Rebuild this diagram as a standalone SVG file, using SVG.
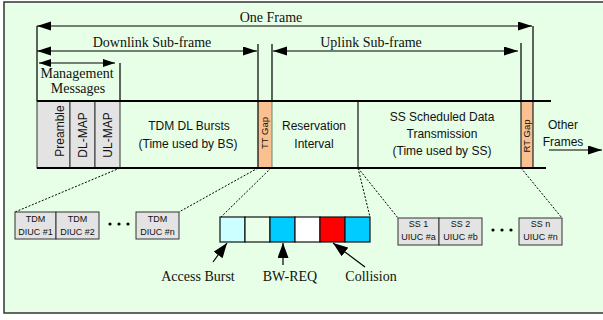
<svg xmlns="http://www.w3.org/2000/svg" width="603" height="320" viewBox="0 0 603 320">
<defs>
<style>
.serif{font-family:"Liberation Serif","Times New Roman",serif;font-size:14px;fill:#111}
.sans{font-family:"Liberation Sans",Arial,sans-serif;font-size:12px;fill:#111}
.small{font-family:"Liberation Sans",Arial,sans-serif;font-size:9px;fill:#111}
.gap{font-family:"Liberation Sans",Arial,sans-serif;font-size:9.5px;fill:#111}
.dim{stroke:#000;stroke-width:1.2;fill:none}
.vl{stroke:#111;stroke-width:1.3;fill:none}
.dot{stroke:#000;stroke-width:1;stroke-dasharray:2 1.6;fill:none}
.gray{fill:#E3E3E3;stroke:#333;stroke-width:1}
.slot{stroke:#111;stroke-width:1.2}
</style>
<marker id="ah" markerUnits="userSpaceOnUse" markerWidth="16" markerHeight="10" refX="14" refY="4.5" orient="auto-start-reverse">
<path d="M0,0 L14,4.5 L0,9 Z" fill="#000"/>
</marker>
<marker id="ahs" markerUnits="userSpaceOnUse" markerWidth="14" markerHeight="10" refX="12" refY="4" orient="auto-start-reverse">
<path d="M0,0 L12,4 L0,8 Z" fill="#000"/>
</marker>
<marker id="ahb" markerUnits="userSpaceOnUse" markerWidth="18" markerHeight="12" refX="15" refY="5.5" orient="auto">
<path d="M0,0 L15,5.5 L0,11 Z" fill="#000"/>
</marker>
</defs>

<rect x="4" y="2" width="610" height="311" fill="#E6FFE6" stroke="#333" stroke-width="1.5"/>

<g id="connectors">
<line class="dim" x1="37" y1="26" x2="532" y2="26" marker-start="url(#ah)" marker-end="url(#ah)"/>
<line class="dim" x1="37" y1="51" x2="257" y2="51" marker-start="url(#ah)" marker-end="url(#ah)"/>
<line class="dim" x1="273" y1="51" x2="518" y2="51" marker-start="url(#ah)" marker-end="url(#ah)"/>
<line class="dim" x1="39" y1="63" x2="115" y2="63" marker-start="url(#ahs)" marker-end="url(#ahs)"/>
<line class="vl" x1="37" y1="26" x2="37" y2="101"/>
<line class="vl" x1="120" y1="63" x2="120" y2="101"/>
<line class="vl" x1="258" y1="44" x2="258" y2="101"/>
<line class="vl" x1="272" y1="44" x2="272" y2="101"/>
<line class="vl" x1="521" y1="43" x2="521" y2="101"/>
<line class="vl" x1="533" y1="26" x2="533" y2="101"/>
<line class="dim" x1="549" y1="150" x2="602" y2="150" marker-end="url(#ah)"/>
<line class="dot" x1="120" y1="168" x2="15" y2="212"/>
<line class="dot" x1="258" y1="168" x2="179" y2="212"/>
<line class="dot" x1="271" y1="168" x2="221" y2="217"/>
<line class="dot" x1="358" y1="168" x2="370" y2="217"/>
<line class="dot" x1="358" y1="168" x2="398" y2="218"/>
<line class="dot" x1="521" y1="168" x2="562" y2="218"/>
<line class="dim" x1="213" y1="262" x2="227" y2="243" stroke-width="1.3" marker-end="url(#ahb)"/>
<line class="dim" x1="283" y1="265" x2="283" y2="243" stroke-width="1.3" marker-end="url(#ahb)"/>
<line class="dim" x1="365" y1="267" x2="333" y2="243" stroke-width="1.3" marker-end="url(#ahb)"/>
</g>

<g id="labels">
<text class="serif" x="271" y="22" text-anchor="middle">One Frame</text>
<text class="serif" x="152" y="47" text-anchor="middle">Downlink Sub-frame</text>
<text class="serif" x="371" y="47" text-anchor="middle">Uplink Sub-frame</text>
<text class="serif" x="77" y="78" text-anchor="middle">Management</text>
<text class="serif" x="78" y="93" text-anchor="middle">Messages</text>
<text class="sans" x="563" y="129" text-anchor="middle">Other</text>
<text class="sans" x="563" y="146" text-anchor="middle">Frames</text>
</g>

<g id="frame">
<rect x="37" y="101" width="33" height="67" class="gray"/>
<rect x="70" y="101" width="25" height="67" class="gray"/>
<rect x="95" y="101" width="25" height="67" class="gray"/>
<text class="sans" transform="translate(64,131) rotate(-90)" text-anchor="middle">Preamble</text>
<text class="sans" transform="translate(87,135) rotate(-90)" text-anchor="middle">DL-MAP</text>
<text class="sans" transform="translate(112,135) rotate(-90)" text-anchor="middle">UL-MAP</text>
</g>

<g id="tdm-dl-bursts">
<text class="sans" x="189" y="130" text-anchor="middle">TDM DL Bursts</text>
<text class="sans" x="188" y="148" text-anchor="middle">(Time used by BS)</text>
</g>

<g id="tt-gap">
<rect x="258" y="101" width="14" height="67" fill="#FAC090"/>
<line x1="258" y1="101" x2="258" y2="168" stroke="#222" stroke-width="1.4"/>
<line x1="272" y1="101" x2="272" y2="168" stroke="#6a8a6a" stroke-width="1"/>
<text class="gap" transform="translate(268,133) rotate(-90)" text-anchor="middle">TT Gap</text>
</g>

<g id="reservation-interval">
<text class="sans" x="314" y="130" text-anchor="middle">Reservation</text>
<text class="sans" x="314" y="148" text-anchor="middle">Interval</text>
<line x1="358" y1="101" x2="358" y2="168" stroke="#333" stroke-width="1.4"/>
</g>

<g id="ss-scheduled">
<text class="sans" x="442" y="121" text-anchor="middle">SS Scheduled Data</text>
<text class="sans" x="442" y="138" text-anchor="middle">Transmission</text>
<text class="sans" x="442" y="155" text-anchor="middle">(Time used by SS)</text>
</g>

<g id="rt-gap">
<rect x="521" y="101" width="12" height="67" fill="#FAC090"/>
<line x1="521" y1="101" x2="521" y2="168" stroke="#222" stroke-width="1.2"/>
<line x1="533" y1="101" x2="533" y2="168" stroke="#222" stroke-width="1.2"/>
<text class="gap" transform="translate(530,136) rotate(-90)" text-anchor="middle">RT Gap</text>
</g>

<g id="frame-edges">
<line x1="37" y1="101" x2="551" y2="101" stroke="#000" stroke-width="2"/>
<line x1="37" y1="168" x2="546" y2="168" stroke="#000" stroke-width="2"/>
</g>

<g id="tdm-diuc">
<rect x="15" y="212" width="41" height="27" class="gray"/>
<text class="small" x="35.5" y="222" text-anchor="middle">TDM</text>
<text class="small" x="35.5" y="235" text-anchor="middle">DIUC #1</text>
<rect x="56" y="212" width="43" height="27" class="gray"/>
<text class="small" x="77.5" y="222" text-anchor="middle">TDM</text>
<text class="small" x="77.5" y="235" text-anchor="middle">DIUC #2</text>
<circle cx="110" cy="224" r="1.6" fill="#000"/>
<circle cx="119" cy="224" r="1.6" fill="#000"/>
<circle cx="128" cy="224" r="1.6" fill="#000"/>
<rect x="136" y="212" width="43" height="27" class="gray"/>
<text class="small" x="157.5" y="222" text-anchor="middle">TDM</text>
<text class="small" x="157.5" y="235" text-anchor="middle">DIUC #n</text>
</g>

<g id="slots">
<rect x="220" y="217" width="25" height="25" fill="#CCFFFF" class="slot"/>
<rect x="245" y="217" width="25" height="25" fill="#EAFFEA" class="slot"/>
<rect x="270" y="217" width="25" height="25" fill="#00CCFF" class="slot"/>
<rect x="295" y="217" width="25" height="25" fill="#FFFFFF" class="slot"/>
<rect x="320" y="217" width="25" height="25" fill="#FF0000" class="slot"/>
<rect x="345" y="217" width="25" height="25" fill="#00CCFF" class="slot"/>
<text class="serif" x="198" y="281" text-anchor="middle">Access Burst</text>
<text class="serif" x="290" y="281" text-anchor="middle">BW-REQ</text>
<text class="serif" x="371" y="281" text-anchor="middle">Collision</text>
</g>

<g id="ss-uiuc">
<rect x="398" y="218" width="41" height="27" class="gray"/>
<text class="small" x="418.5" y="227" text-anchor="middle">SS 1</text>
<text class="small" x="418.5" y="240" text-anchor="middle">UIUC #a</text>
<rect x="439" y="218" width="43" height="27" class="gray"/>
<text class="small" x="460.5" y="227" text-anchor="middle">SS 2</text>
<text class="small" x="460.5" y="240" text-anchor="middle">UIUC #b</text>
<circle cx="493" cy="230" r="1.6" fill="#000"/>
<circle cx="502" cy="230" r="1.6" fill="#000"/>
<circle cx="511" cy="230" r="1.6" fill="#000"/>
<rect x="519" y="218" width="43" height="27" class="gray"/>
<text class="small" x="540.5" y="227" text-anchor="middle">SS n</text>
<text class="small" x="540.5" y="240" text-anchor="middle">UIUC #n</text>
</g>
</svg>
